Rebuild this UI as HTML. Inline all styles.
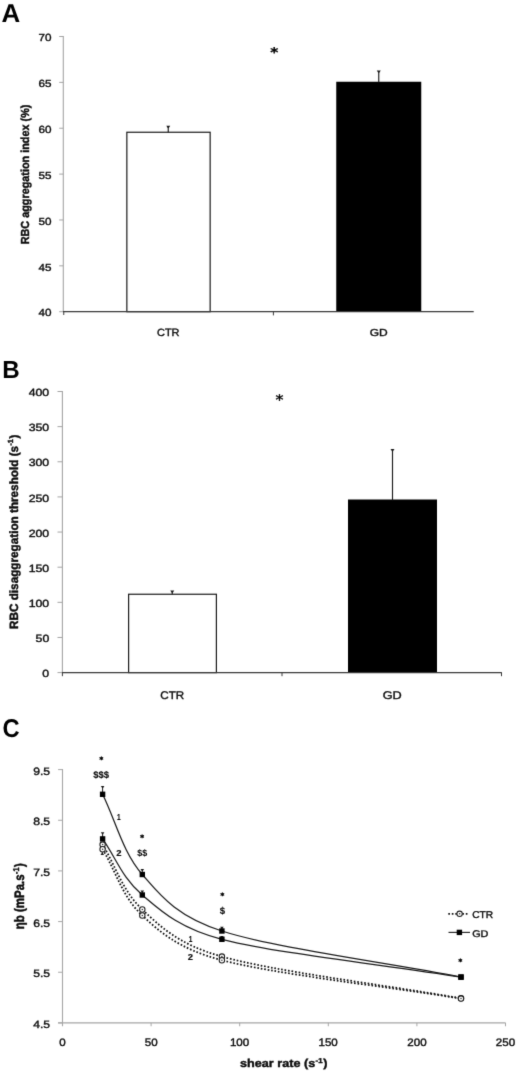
<!DOCTYPE html>
<html lang="en"><head><meta charset="utf-8"><title>Figure</title>
<style>
html,body{margin:0;padding:0;background:#fff;}
body{width:520px;height:1072px;overflow:hidden;font-family:"Liberation Sans",sans-serif;}
svg{display:block;font-family:"Liberation Sans",sans-serif;text-rendering:geometricPrecision;}
</style></head><body>
<svg width="520" height="1072" viewBox="0 0 520 1072">
<defs><filter id="soft" x="0" y="0" width="100%" height="100%" filterUnits="userSpaceOnUse" color-interpolation-filters="sRGB"><feConvolveMatrix order="3" kernelMatrix="0.0113 0.0838 0.0113 0.0838 0.6193 0.0838 0.0113 0.0838 0.0113" edgeMode="duplicate" preserveAlpha="true"/></filter></defs>
<rect width="520" height="1072" fill="#fff"/>
<g filter="url(#soft)">
<rect width="520" height="1072" fill="#fff"/>
<g id="panelA">
<text transform="translate(1.57 22.01) scale(1.0068 1.0000)" font-size="25.74" font-weight="bold" text-anchor="start" fill="#000">A</text>
<line x1="63.30" y1="36.00" x2="63.30" y2="311.70" stroke="#a4a4a4" stroke-width="1.1" />
<line x1="59.20" y1="311.70" x2="63.30" y2="311.70" stroke="#a4a4a4" stroke-width="1.0" />
<line x1="59.20" y1="265.83" x2="63.30" y2="265.83" stroke="#a4a4a4" stroke-width="1.0" />
<line x1="59.20" y1="219.97" x2="63.30" y2="219.97" stroke="#a4a4a4" stroke-width="1.0" />
<line x1="59.20" y1="174.10" x2="63.30" y2="174.10" stroke="#a4a4a4" stroke-width="1.0" />
<line x1="59.20" y1="128.23" x2="63.30" y2="128.23" stroke="#a4a4a4" stroke-width="1.0" />
<line x1="59.20" y1="82.37" x2="63.30" y2="82.37" stroke="#a4a4a4" stroke-width="1.0" />
<line x1="59.20" y1="36.50" x2="63.30" y2="36.50" stroke="#a4a4a4" stroke-width="1.0" />
<text transform="translate(38.46 316.46) scale(1.1335 1.0000)" font-size="10.31" font-weight="normal" text-anchor="start" fill="#0c0c0c" stroke="#0c0c0c" stroke-width="0.38">40</text>
<text transform="translate(38.46 270.54) scale(1.1335 1.0000)" font-size="10.31" font-weight="normal" text-anchor="start" fill="#0c0c0c" stroke="#0c0c0c" stroke-width="0.38">45</text>
<text transform="translate(38.46 224.72) scale(1.1335 1.0000)" font-size="10.31" font-weight="normal" text-anchor="start" fill="#0c0c0c" stroke="#0c0c0c" stroke-width="0.38">50</text>
<text transform="translate(38.46 178.81) scale(1.1335 1.0000)" font-size="10.31" font-weight="normal" text-anchor="start" fill="#0c0c0c" stroke="#0c0c0c" stroke-width="0.38">55</text>
<text transform="translate(38.46 132.99) scale(1.1335 1.0000)" font-size="10.31" font-weight="normal" text-anchor="start" fill="#0c0c0c" stroke="#0c0c0c" stroke-width="0.38">60</text>
<text transform="translate(38.46 87.12) scale(1.1335 1.0000)" font-size="10.31" font-weight="normal" text-anchor="start" fill="#0c0c0c" stroke="#0c0c0c" stroke-width="0.38">65</text>
<text transform="translate(38.46 41.26) scale(1.1335 1.0000)" font-size="10.31" font-weight="normal" text-anchor="start" fill="#0c0c0c" stroke="#0c0c0c" stroke-width="0.38">70</text>
<rect x="126.85" y="132.25" width="83.30" height="179.45" fill="#fff" stroke="#1a1a1a" stroke-width="1.2"/>
<line x1="168.25" y1="126.50" x2="168.25" y2="132.25" stroke="#1a1a1a" stroke-width="1.15" />
<polygon points="166.25,125.70 170.25,125.70 168.75,128.00 167.75,128.00" fill="#1a1a1a"/>
<rect x="336.25" y="81.75" width="85.00" height="229.95" fill="#000" stroke="none" stroke-width="0"/>
<line x1="378.75" y1="71.25" x2="378.75" y2="82.50" stroke="#1a1a1a" stroke-width="1.15" />
<polygon points="376.75,70.45 380.75,70.45 379.25,72.75 378.25,72.75" fill="#1a1a1a"/>
<line x1="63.00" y1="311.70" x2="473.70" y2="311.70" stroke="#3a3a3a" stroke-width="1.3" />
<line x1="63.75" y1="311.70" x2="63.75" y2="315.00" stroke="#3a3a3a" stroke-width="1" />
<line x1="273.40" y1="311.70" x2="273.40" y2="315.40" stroke="#3a3a3a" stroke-width="1" />
<text transform="translate(270.27 56.87) scale(1.1453 1.0000)" font-size="13.37" font-weight="bold" text-anchor="start" fill="#000" stroke="#000" stroke-width="0.25" font-family="'DejaVu Sans', sans-serif">*</text>
<text transform="translate(156.99 336.36) scale(1.0511 1.0000)" font-size="10.45" font-weight="normal" text-anchor="start" fill="#0c0c0c" stroke="#0c0c0c" stroke-width="0.38">CTR</text>
<text transform="translate(369.64 336.36) scale(1.1815 1.0000)" font-size="10.17" font-weight="normal" text-anchor="start" fill="#0c0c0c" stroke="#0c0c0c" stroke-width="0.38">GD</text>
<text transform="translate(29.27 244.31) rotate(-90) scale(0.9853 1.0602)" font-size="11.00" font-weight="bold" text-anchor="start" fill="#0c0c0c" stroke="#0c0c0c" stroke-width="0.4">RBC aggregation index (%)</text>
</g>
<g id="panelB">
<text transform="translate(2.31 377.50) scale(0.9814 1.0000)" font-size="24.64" font-weight="bold" text-anchor="start" fill="#000">B</text>
<line x1="62.40" y1="391.00" x2="62.40" y2="672.60" stroke="#a4a4a4" stroke-width="1.1" />
<line x1="57.50" y1="672.60" x2="62.40" y2="672.60" stroke="#a4a4a4" stroke-width="1.0" />
<line x1="57.50" y1="637.46" x2="62.40" y2="637.46" stroke="#a4a4a4" stroke-width="1.0" />
<line x1="57.50" y1="602.33" x2="62.40" y2="602.33" stroke="#a4a4a4" stroke-width="1.0" />
<line x1="57.50" y1="567.19" x2="62.40" y2="567.19" stroke="#a4a4a4" stroke-width="1.0" />
<line x1="57.50" y1="532.05" x2="62.40" y2="532.05" stroke="#a4a4a4" stroke-width="1.0" />
<line x1="57.50" y1="496.91" x2="62.40" y2="496.91" stroke="#a4a4a4" stroke-width="1.0" />
<line x1="57.50" y1="461.77" x2="62.40" y2="461.77" stroke="#a4a4a4" stroke-width="1.0" />
<line x1="57.50" y1="426.64" x2="62.40" y2="426.64" stroke="#a4a4a4" stroke-width="1.0" />
<line x1="57.50" y1="391.50" x2="62.40" y2="391.50" stroke="#a4a4a4" stroke-width="1.0" />
<text transform="translate(42.36 677.31) scale(1.1780 1.0000)" font-size="10.45" font-weight="normal" text-anchor="start" fill="#0c0c0c" stroke="#0c0c0c" stroke-width="0.38">0</text>
<text transform="translate(35.59 642.17) scale(1.1780 1.0000)" font-size="10.45" font-weight="normal" text-anchor="start" fill="#0c0c0c" stroke="#0c0c0c" stroke-width="0.38">50</text>
<text transform="translate(28.69 607.03) scale(1.1780 1.0000)" font-size="10.45" font-weight="normal" text-anchor="start" fill="#0c0c0c" stroke="#0c0c0c" stroke-width="0.38">100</text>
<text transform="translate(28.69 571.89) scale(1.1780 1.0000)" font-size="10.45" font-weight="normal" text-anchor="start" fill="#0c0c0c" stroke="#0c0c0c" stroke-width="0.38">150</text>
<text transform="translate(28.69 536.76) scale(1.1780 1.0000)" font-size="10.45" font-weight="normal" text-anchor="start" fill="#0c0c0c" stroke="#0c0c0c" stroke-width="0.38">200</text>
<text transform="translate(28.69 501.62) scale(1.1780 1.0000)" font-size="10.45" font-weight="normal" text-anchor="start" fill="#0c0c0c" stroke="#0c0c0c" stroke-width="0.38">250</text>
<text transform="translate(28.69 466.48) scale(1.1780 1.0000)" font-size="10.45" font-weight="normal" text-anchor="start" fill="#0c0c0c" stroke="#0c0c0c" stroke-width="0.38">300</text>
<text transform="translate(28.69 431.34) scale(1.1780 1.0000)" font-size="10.45" font-weight="normal" text-anchor="start" fill="#0c0c0c" stroke="#0c0c0c" stroke-width="0.38">350</text>
<text transform="translate(28.69 396.21) scale(1.1780 1.0000)" font-size="10.45" font-weight="normal" text-anchor="start" fill="#0c0c0c" stroke="#0c0c0c" stroke-width="0.38">400</text>
<rect x="128.60" y="594.25" width="87.80" height="78.35" fill="#fff" stroke="#1a1a1a" stroke-width="1.2"/>
<line x1="172.25" y1="591.25" x2="172.25" y2="594.25" stroke="#1a1a1a" stroke-width="1.15" />
<polygon points="170.25,590.45 174.25,590.45 172.75,592.75 171.75,592.75" fill="#1a1a1a"/>
<rect x="348.00" y="499.50" width="89.00" height="173.10" fill="#000" stroke="none" stroke-width="0"/>
<line x1="392.50" y1="449.75" x2="392.50" y2="500.50" stroke="#1a1a1a" stroke-width="1.15" />
<polygon points="390.50,448.95 394.50,448.95 393.00,451.25 392.00,451.25" fill="#1a1a1a"/>
<line x1="62.00" y1="672.60" x2="501.80" y2="672.60" stroke="#3a3a3a" stroke-width="1.3" />
<line x1="62.40" y1="672.60" x2="62.40" y2="676.20" stroke="#3a3a3a" stroke-width="1" />
<line x1="282.00" y1="672.60" x2="282.00" y2="676.20" stroke="#3a3a3a" stroke-width="1" />
<line x1="501.50" y1="672.60" x2="501.50" y2="676.20" stroke="#3a3a3a" stroke-width="1" />
<text transform="translate(275.57 404.50) scale(1.0847 1.0000)" font-size="14.67" font-weight="normal" text-anchor="start" fill="#000" stroke="#000" stroke-width="0.4" font-family="'DejaVu Sans', sans-serif">*</text>
<text transform="translate(160.26 698.85) scale(1.0445 1.0000)" font-size="11.15" font-weight="normal" text-anchor="start" fill="#0c0c0c" stroke="#0c0c0c" stroke-width="0.38">CTR</text>
<text transform="translate(382.70 698.85) scale(1.1411 1.0000)" font-size="11.15" font-weight="normal" text-anchor="start" fill="#0c0c0c" stroke="#0c0c0c" stroke-width="0.38">GD</text>
<text transform="translate(17.77 628.97) rotate(-90) scale(1.0658 1.0919)" font-size="11.00" font-weight="bold" text-anchor="start" fill="#0c0c0c" stroke="#0c0c0c" stroke-width="0.4">RBC disaggregation threshold (s<tspan style="font-size:62%" dy="-0.66em" dx="0.05em">-1</tspan><tspan dy="0.409em" dx="0.06em">)</tspan></text>
</g>
<g id="panelC">
<text transform="translate(2.40 737.24) scale(0.9217 1.0000)" font-size="25.70" font-weight="bold" text-anchor="start" fill="#000">C</text>
<line x1="62.50" y1="769.10" x2="62.50" y2="1026.25" stroke="#a6a6a6" stroke-width="1.1" />
<line x1="58.10" y1="1022.90" x2="62.50" y2="1022.90" stroke="#a6a6a6" stroke-width="1.0" />
<line x1="58.10" y1="972.24" x2="62.50" y2="972.24" stroke="#a6a6a6" stroke-width="1.0" />
<line x1="58.10" y1="921.58" x2="62.50" y2="921.58" stroke="#a6a6a6" stroke-width="1.0" />
<line x1="58.10" y1="870.92" x2="62.50" y2="870.92" stroke="#a6a6a6" stroke-width="1.0" />
<line x1="58.10" y1="820.26" x2="62.50" y2="820.26" stroke="#a6a6a6" stroke-width="1.0" />
<line x1="58.10" y1="769.60" x2="62.50" y2="769.60" stroke="#a6a6a6" stroke-width="1.0" />
<text transform="translate(33.23 1027.85) scale(1.1339 1.0000)" font-size="10.73" font-weight="normal" text-anchor="start" fill="#0c0c0c" stroke="#0c0c0c" stroke-width="0.38">4.5</text>
<text transform="translate(33.23 977.19) scale(1.1339 1.0000)" font-size="10.73" font-weight="normal" text-anchor="start" fill="#0c0c0c" stroke="#0c0c0c" stroke-width="0.38">5.5</text>
<text transform="translate(33.23 926.58) scale(1.1339 1.0000)" font-size="10.73" font-weight="normal" text-anchor="start" fill="#0c0c0c" stroke="#0c0c0c" stroke-width="0.38">6.5</text>
<text transform="translate(33.23 875.87) scale(1.1339 1.0000)" font-size="10.73" font-weight="normal" text-anchor="start" fill="#0c0c0c" stroke="#0c0c0c" stroke-width="0.38">7.5</text>
<text transform="translate(33.23 825.26) scale(1.1339 1.0000)" font-size="10.73" font-weight="normal" text-anchor="start" fill="#0c0c0c" stroke="#0c0c0c" stroke-width="0.38">8.5</text>
<text transform="translate(33.23 774.60) scale(1.1339 1.0000)" font-size="10.73" font-weight="normal" text-anchor="start" fill="#0c0c0c" stroke="#0c0c0c" stroke-width="0.38">9.5</text>
<line x1="58.10" y1="1022.90" x2="505.60" y2="1022.90" stroke="#a6a6a6" stroke-width="1.1" />
<text transform="translate(59.35 1045.65) scale(1.0664 1.0000)" font-size="10.87" font-weight="normal" text-anchor="start" fill="#0c0c0c" stroke="#0c0c0c" stroke-width="0.38">0</text>
<line x1="151.10" y1="1022.90" x2="151.10" y2="1026.25" stroke="#a6a6a6" stroke-width="1.0" />
<text transform="translate(144.76 1045.65) scale(1.0664 1.0000)" font-size="10.87" font-weight="normal" text-anchor="start" fill="#0c0c0c" stroke="#0c0c0c" stroke-width="0.38">50</text>
<line x1="239.70" y1="1022.90" x2="239.70" y2="1026.25" stroke="#a6a6a6" stroke-width="1.0" />
<text transform="translate(229.89 1045.65) scale(1.0664 1.0000)" font-size="10.87" font-weight="normal" text-anchor="start" fill="#0c0c0c" stroke="#0c0c0c" stroke-width="0.38">100</text>
<line x1="328.30" y1="1022.90" x2="328.30" y2="1026.25" stroke="#a6a6a6" stroke-width="1.0" />
<text transform="translate(318.49 1045.65) scale(1.0664 1.0000)" font-size="10.87" font-weight="normal" text-anchor="start" fill="#0c0c0c" stroke="#0c0c0c" stroke-width="0.38">150</text>
<line x1="416.90" y1="1022.90" x2="416.90" y2="1026.25" stroke="#a6a6a6" stroke-width="1.0" />
<text transform="translate(407.26 1045.65) scale(1.0664 1.0000)" font-size="10.87" font-weight="normal" text-anchor="start" fill="#0c0c0c" stroke="#0c0c0c" stroke-width="0.38">200</text>
<line x1="505.50" y1="1022.90" x2="505.50" y2="1026.25" stroke="#a6a6a6" stroke-width="1.0" />
<text transform="translate(495.86 1045.65) scale(1.0664 1.0000)" font-size="10.87" font-weight="normal" text-anchor="start" fill="#0c0c0c" stroke="#0c0c0c" stroke-width="0.38">250</text>
<text transform="translate(240.04 1067.40) scale(1.1487 1.0288)" font-size="11.00" font-weight="bold" text-anchor="start" fill="#0c0c0c" stroke="#0c0c0c" stroke-width="0.4">shear rate (s<tspan style="font-size:62%" dy="-0.66em" dx="0.05em">-1</tspan><tspan dy="0.409em" dx="0.06em">)</tspan></text>
<text transform="translate(24.38 929.22) rotate(-90) scale(1.0440 1.2408)" font-size="11.00" font-weight="bold" text-anchor="start" fill="#0c0c0c" stroke="#0c0c0c" stroke-width="0.4">ηb (mPa.s<tspan style="font-size:62%" dy="-0.66em" dx="0.05em">-1</tspan><tspan dy="0.409em" dx="0.06em">)</tspan></text>
<path d="M102.6 844.6 C115.8 866.2 122.4 890.8 142.3 909.5 C159.0 925.2 177.4 944.2 221.9 956.6 C275.0 971.4 381.3 984.4 461.0 998.3" fill="none" stroke="#111" stroke-width="1.75" stroke-dasharray="1.65 1.85"/>
<path d="M102.6 849.2 C115.8 871.3 122.4 897.0 142.3 915.5 C158.8 930.9 177.7 948.7 221.9 960.2 C275.0 974.1 381.3 985.8 461.0 998.6" fill="none" stroke="#111" stroke-width="1.75" stroke-dasharray="1.65 1.85"/>
<path d="M102.6 794.3 C115.8 821.0 122.4 851.7 142.3 874.5 C159.7 894.4 175.4 916.1 221.9 931.0 C275.0 948.1 381.3 961.7 461.0 977.0" fill="none" stroke="#1c1c1c" stroke-width="1.25"/>
<path d="M102.6 838.9 C115.8 857.6 122.4 878.3 142.3 895.0 C158.8 908.9 177.8 927.9 221.9 939.3 C275.0 953.0 381.3 964.6 461.0 977.2" fill="none" stroke="#1c1c1c" stroke-width="1.25"/>
<line x1="102.60" y1="786.60" x2="102.60" y2="794.30" stroke="#1a1a1a" stroke-width="1.0" />
<polygon points="100.80,785.90 104.40,785.90 103.05,787.90 102.15,787.90" fill="#1a1a1a"/>
<rect x="99.90" y="791.60" width="5.40" height="5.40" fill="#000" stroke="none" stroke-width="0"/>
<line x1="142.30" y1="869.60" x2="142.30" y2="874.50" stroke="#1a1a1a" stroke-width="1.0" />
<polygon points="140.50,868.90 144.10,868.90 142.75,870.90 141.85,870.90" fill="#1a1a1a"/>
<rect x="139.60" y="871.80" width="5.40" height="5.40" fill="#000" stroke="none" stroke-width="0"/>
<line x1="221.90" y1="927.40" x2="221.90" y2="931.00" stroke="#1a1a1a" stroke-width="1.0" />
<polygon points="220.10,926.70 223.70,926.70 222.35,928.70 221.45,928.70" fill="#1a1a1a"/>
<rect x="219.20" y="928.30" width="5.40" height="5.40" fill="#000" stroke="none" stroke-width="0"/>
<rect x="458.30" y="974.30" width="5.40" height="5.40" fill="#000" stroke="none" stroke-width="0"/>
<line x1="102.60" y1="833.00" x2="102.60" y2="838.90" stroke="#1a1a1a" stroke-width="1.0" />
<polygon points="100.80,832.30 104.40,832.30 103.05,834.30 102.15,834.30" fill="#1a1a1a"/>
<rect x="99.90" y="836.20" width="5.40" height="5.40" fill="#000" stroke="none" stroke-width="0"/>
<line x1="142.30" y1="891.10" x2="142.30" y2="895.00" stroke="#1a1a1a" stroke-width="1.0" />
<polygon points="140.50,890.40 144.10,890.40 142.75,892.40 141.85,892.40" fill="#1a1a1a"/>
<rect x="139.60" y="892.30" width="5.40" height="5.40" fill="#000" stroke="none" stroke-width="0"/>
<line x1="221.90" y1="936.70" x2="221.90" y2="939.30" stroke="#1a1a1a" stroke-width="1.0" />
<polygon points="220.10,936.00 223.70,936.00 222.35,938.00 221.45,938.00" fill="#1a1a1a"/>
<rect x="219.20" y="936.60" width="5.40" height="5.40" fill="#000" stroke="none" stroke-width="0"/>
<rect x="458.30" y="974.50" width="5.40" height="5.40" fill="#000" stroke="none" stroke-width="0"/>
<line x1="102.30" y1="849.60" x2="102.30" y2="854.20" stroke="#1a1a1a" stroke-width="1.0" />
<polygon points="100.50,854.90 104.10,854.90 102.75,852.90 101.85,852.90" fill="#1a1a1a"/>
<circle cx="102.6" cy="844.6" r="2.7" fill="#fff" stroke="#1c1c1c" stroke-width="1.05"/>
<circle cx="102.6" cy="844.6" r="0.75" fill="#333"/>
<circle cx="142.3" cy="909.5" r="2.7" fill="#fff" stroke="#1c1c1c" stroke-width="1.05"/>
<circle cx="142.3" cy="909.5" r="0.75" fill="#333"/>
<circle cx="221.9" cy="956.6" r="2.7" fill="#fff" stroke="#1c1c1c" stroke-width="1.05"/>
<circle cx="221.9" cy="956.6" r="0.75" fill="#333"/>
<circle cx="461.0" cy="998.3" r="2.7" fill="#fff" stroke="#1c1c1c" stroke-width="1.05"/>
<circle cx="461.0" cy="998.3" r="0.75" fill="#333"/>
<circle cx="102.6" cy="849.2" r="2.7" fill="#fff" stroke="#1c1c1c" stroke-width="1.05"/>
<circle cx="102.6" cy="849.2" r="0.75" fill="#333"/>
<circle cx="142.3" cy="915.5" r="2.7" fill="#fff" stroke="#1c1c1c" stroke-width="1.05"/>
<circle cx="142.3" cy="915.5" r="0.75" fill="#333"/>
<circle cx="221.9" cy="960.2" r="2.7" fill="#fff" stroke="#1c1c1c" stroke-width="1.05"/>
<circle cx="221.9" cy="960.2" r="0.75" fill="#333"/>
<circle cx="461.0" cy="998.6" r="2.7" fill="#fff" stroke="#1c1c1c" stroke-width="1.05"/>
<circle cx="461.0" cy="998.6" r="0.75" fill="#333"/>
<text transform="translate(99.43 762.20) scale(1.0173 1.0000)" font-size="7.07" font-weight="bold" text-anchor="start" fill="#000" stroke="#000" stroke-width="0.45" font-family="'DejaVu Sans', sans-serif">*</text>
<text transform="translate(140.13 839.80) scale(1.0173 1.0000)" font-size="7.07" font-weight="bold" text-anchor="start" fill="#000" stroke="#000" stroke-width="0.45" font-family="'DejaVu Sans', sans-serif">*</text>
<text transform="translate(220.43 898.00) scale(1.0173 1.0000)" font-size="7.07" font-weight="bold" text-anchor="start" fill="#000" stroke="#000" stroke-width="0.45" font-family="'DejaVu Sans', sans-serif">*</text>
<text transform="translate(458.53 964.00) scale(1.0173 1.0000)" font-size="7.07" font-weight="bold" text-anchor="start" fill="#000" stroke="#000" stroke-width="0.45" font-family="'DejaVu Sans', sans-serif">*</text>
<text transform="translate(93.21 778.03) scale(0.9997 1.0000)" font-size="9.51" font-weight="bold" text-anchor="start" fill="#0c0c0c" stroke="#0c0c0c" stroke-width="0.1">$$$</text>
<text transform="translate(137.32 855.65) scale(0.9591 1.0000)" font-size="9.27" font-weight="bold" text-anchor="start" fill="#0c0c0c" stroke="#0c0c0c" stroke-width="0.1">$$</text>
<text transform="translate(219.71 914.03) scale(0.9981 1.0000)" font-size="9.63" font-weight="bold" text-anchor="start" fill="#0c0c0c" stroke="#0c0c0c" stroke-width="0.1">$</text>
<text transform="translate(116.99 820.12) scale(0.7401 1.0000)" font-size="8.77" font-weight="bold" text-anchor="start" fill="#0c0c0c" stroke="#0c0c0c" stroke-width="0.15">1</text>
<text transform="translate(116.19 856.32) scale(1.0980 1.0000)" font-size="8.64" font-weight="bold" text-anchor="start" fill="#0c0c0c" stroke="#0c0c0c" stroke-width="0.15">2</text>
<text transform="translate(188.79 942.23) scale(0.7401 1.0000)" font-size="8.77" font-weight="bold" text-anchor="start" fill="#0c0c0c" stroke="#0c0c0c" stroke-width="0.15">1</text>
<text transform="translate(187.69 959.82) scale(1.0980 1.0000)" font-size="8.64" font-weight="bold" text-anchor="start" fill="#0c0c0c" stroke="#0c0c0c" stroke-width="0.15">2</text>
<line x1="448.3" y1="913.8" x2="469.3" y2="913.8" stroke="#111" stroke-width="1.75" stroke-dasharray="1.65 1.85"/>
<circle cx="459.6" cy="913.8" r="2.7" fill="#fff" stroke="#1c1c1c" stroke-width="1.05"/>
<circle cx="459.6" cy="913.8" r="0.75" fill="#333"/>
<text transform="translate(472.23 918.16) scale(1.0280 1.0000)" font-size="9.89" font-weight="normal" text-anchor="start" fill="#0c0c0c" stroke="#0c0c0c" stroke-width="0.38">CTR</text>
<line x1="448.50" y1="932.40" x2="470.00" y2="932.40" stroke="#2a2a2a" stroke-width="1.15" />
<rect x="456.70" y="929.70" width="5.40" height="5.40" fill="#000" stroke="none" stroke-width="0"/>
<text transform="translate(472.20 936.76) scale(1.1243 1.0000)" font-size="9.61" font-weight="normal" text-anchor="start" fill="#0c0c0c" stroke="#0c0c0c" stroke-width="0.38">GD</text>
</g>
</g>
</svg>
</body></html>
